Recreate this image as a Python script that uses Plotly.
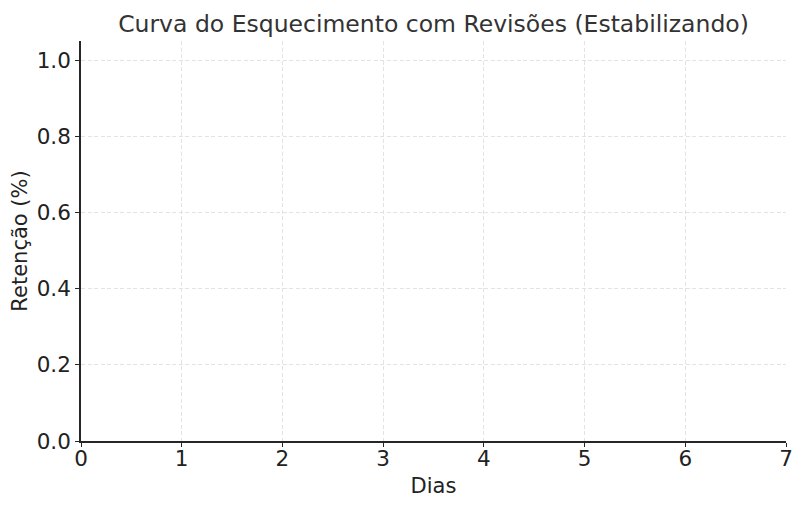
import plotly.graph_objects as go

# The reference chart shows no data marks: empty series
dias = []
retencao = []

x_ticks = [0, 1, 2, 3, 4, 5, 6, 7]
y_ticks = [0.0, 0.2, 0.4, 0.6, 0.8, 1.0]
y_tick_labels = ["0.0", "0.2", "0.4", "0.6", "0.8", "1.0"]

fig = go.Figure()
fig.add_trace(go.Scatter(x=dias, y=retencao, mode="lines", showlegend=False))

font = "DejaVu Sans, sans-serif"
W, H = 797, 500
fig.update_layout(
    width=W, height=H,
    margin=dict(l=73, r=19, t=33, b=67),
    paper_bgcolor="white", plot_bgcolor="white",
    title=dict(text="Curva do Esquecimento com Revisões (Estabilizando)",
               x=0.5, xref="paper", xanchor="center",
               y=1 - 15.5/H, yref="container", yanchor="middle",
               font=dict(family=font, size=23.5, color="#333333")),
    font=dict(family=font, color="#222222"),
)
fig.update_xaxes(range=[0, 7], tickvals=x_ticks, ticktext=[str(t) for t in x_ticks],
                 showline=True, linecolor="#262626", linewidth=1.6,
                 ticks="outside", ticklen=4, tickcolor="#262626", tickwidth=1.2,
                 showgrid=True, gridcolor="#e3e3e3", griddash="4px,2.5px", gridwidth=0.9,
                 zeroline=False, mirror=False, automargin=False,
                 ticklabelstandoff=-7,
                 tickfont=dict(size=21.5, family=font, color="#222222"),
                 title=dict(text="Dias", font=dict(size=21, family=font, color="#222222"), standoff=9))
fig.update_yaxes(range=[0, 1.05], tickvals=y_ticks, ticktext=y_tick_labels,
                 showline=True, linecolor="#262626", linewidth=1.6,
                 ticks="outside", ticklen=4, tickcolor="#262626", tickwidth=1.2,
                 showgrid=True, gridcolor="#e3e3e3", griddash="4px,2.5px", gridwidth=0.9,
                 zeroline=False, mirror=False, automargin=False,
                 tickfont=dict(size=21.5, family=font, color="#222222"),
                 title=dict(text="Retenção (%)", font=dict(size=21, family=font, color="#222222"), standoff=6))

fig.write_html("out.html")
